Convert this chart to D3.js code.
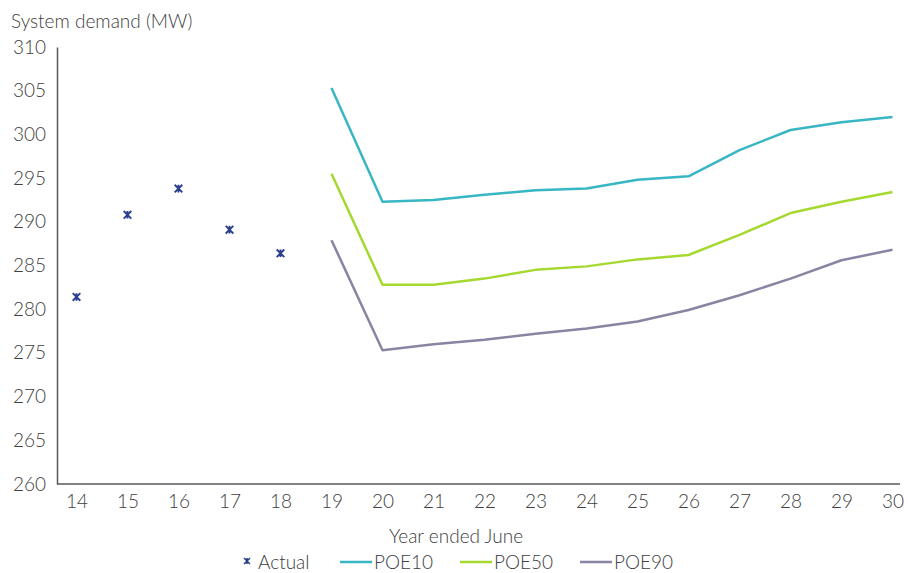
<!DOCTYPE html>
<html>
<head>
<meta charset="utf-8">
<script src="https://cdn.jsdelivr.net/npm/d3@7"></script>
<style>
  html, body { margin: 0; padding: 0; background: #fff; }
  svg text { font-family: Lato, "Open Sans", sans-serif; fill: #404040; }
</style>
</head>
<body>
<svg id="chart" width="908" height="573"></svg>
<script>
// Years (financial year ending June, two-digit)
const years = [14, 15, 16, 17, 18, 19, 20, 21, 22, 23, 24, 25, 26, 27, 28, 29, 30];
const actualYears = [14, 15, 16, 17, 18];
const actual = [281.4, 290.8, 293.8, 289.1, 286.4];
const forecastYears = [19, 20, 21, 22, 23, 24, 25, 26, 27, 28, 29, 30];
const poe10 = [305.3, 292.3, 292.5, 293.1, 293.6, 293.8, 294.8, 295.2, 298.2, 300.5, 301.4, 302.0];
const poe50 = [295.5, 282.8, 282.8, 283.5, 284.5, 284.9, 285.7, 286.2, 288.5, 291.0, 292.3, 293.4];
const poe90 = [287.9, 275.3, 276.0, 276.5, 277.2, 277.8, 278.6, 279.9, 281.6, 283.5, 285.6, 286.8];
const yTicks = [260, 265, 270, 275, 280, 285, 290, 295, 300, 305, 310];

const svg = d3.select("#chart");
const axisColor = "#595959";
const fontSize = "19px";
const colors = { actual: "#2b3f8f", poe10: "#38b6c3", poe50: "#a5d930", poe90: "#8a84a3" };

const plot = { left: 57, right: 900, top: 47, bottom: 484 };
const x = d3.scaleLinear().domain([14, 30]).range([76.5, 892.5]);
const y = d3.scaleLinear().domain([260, 310]).range([plot.bottom, plot.top]);

// Y axis
const yAxis = svg.append("g").attr("transform", `translate(${plot.left},0)`)
  .call(d3.axisLeft(y).tickValues(yTicks).tickSize(0).tickPadding(11));
yAxis.select(".domain").attr("stroke", axisColor).attr("stroke-width", 1.5);
yAxis.selectAll("text").style("font-size", fontSize).style("font-weight", 300).attr("fill", "#404040");

// X axis
const xAxis = svg.append("g").attr("transform", `translate(0,${plot.bottom})`)
  .call(d3.axisBottom(x).tickValues(years).tickSize(0).tickPadding(11).tickFormat(d3.format("d")));
xAxis.select(".domain").remove();
xAxis.append("line").attr("x1", plot.left).attr("x2", plot.right)
  .attr("stroke", axisColor).attr("stroke-width", 1.5);
xAxis.selectAll("text").style("font-size", fontSize).style("font-weight", 300).attr("fill", "#404040");

// Titles
svg.append("text").attr("x", 11).attr("y", 28)
  .style("font-size", fontSize).style("font-weight", 300).text("System demand (MW)");
svg.append("text").attr("x", 456).attr("y", 543).attr("text-anchor", "middle")
  .style("font-size", fontSize).style("font-weight", 300).text("Year ended June");

// Forecast lines
const line = d3.line().x((d, i) => x(forecastYears[i])).y(d => y(d));
[["poe10", poe10], ["poe50", poe50], ["poe90", poe90]].forEach(([k, vals]) => {
  svg.append("path").datum(vals).attr("d", line)
    .attr("fill", "none").attr("stroke", colors[k]).attr("stroke-width", 2.5)
    .attr("stroke-linejoin", "round");
});

// Star marker: an X with a vertical stroke
function star(sel, s, w) {
  sel.append("path")
    .attr("d", `M${-s},${-s}L${s},${s}M${-s},${s}L${s},${-s}M0,${-s}L0,${s}`)
    .attr("stroke", colors.actual).attr("stroke-width", w).attr("fill", "none");
}
actual.forEach((v, i) => {
  const g = svg.append("g").attr("transform", `translate(${x(actualYears[i])},${y(v)})`);
  star(g, 3.8, 1.9);
});

// Legend
const legY = 562;
const lg = svg.append("g");
const m = lg.append("g").attr("transform", `translate(247,${legY - 1})`);
star(m, 3, 1.6);
lg.append("text").attr("x", 258).attr("y", legY + 7).style("font-size", fontSize).style("font-weight", 300).text("Actual");
[["poe10", "POE10", 340], ["poe50", "POE50", 460], ["poe90", "POE90", 580]].forEach(([k, label, lx]) => {
  lg.append("line").attr("x1", lx).attr("x2", lx + 32).attr("y1", legY).attr("y2", legY)
    .attr("stroke", colors[k]).attr("stroke-width", 2.5);
  lg.append("text").attr("x", lx + 34).attr("y", legY + 7).style("font-size", fontSize).style("font-weight", 300).text(label);
});
</script>
</body>
</html>
